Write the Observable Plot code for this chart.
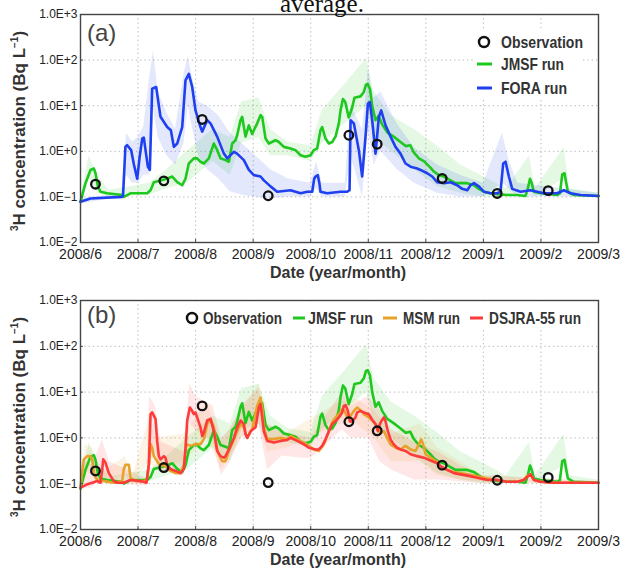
<!DOCTYPE html>
<html><head><meta charset="utf-8">
<script src="https://cdn.jsdelivr.net/npm/d3@7"></script>
<script src="https://cdn.jsdelivr.net/npm/@observablehq/plot@0.6"></script>
<style>
html,body{margin:0;padding:0;background:#fff;}
#wrap{position:relative;width:629px;height:569px;overflow:hidden;background:#fff;}
.panel{position:absolute;left:0;}
#cap{position:absolute;left:280px;top:-9px;font-family:"Liberation Serif","DejaVu Serif",serif;font-size:25px;line-height:1;color:#111;z-index:5;}
</style></head>
<body><div id="wrap"><div id="pa" class="panel" style="top:0"></div><div id="pb" class="panel" style="top:286px"></div><div id="cap">average.</div></div>
<script>
const monthTicks = [0,1,2,3,4,5,6,7,8,9];
const monthLabels = ["2008/6","2008/7","2008/8","2008/9","2008/10","2008/11","2008/12","2009/1","2009/2","2009/3"];
const yTicks = [0.01,0.1,1,10,100,1000];
const yLabels = ["1.0E\u22122","1.0E\u22121","1.0E+0","1.0E+1","1.0E+2","1.0E+3"];

// observations: month position (0 = 2008/6) and concentration (Bq/L)
const obsMonth = [0.26,1.448,2.114,3.261,4.663,5.155,6.284,7.24,8.126];
const obsValue = [0.19,0.225,5.0,0.106,2.25,1.43,0.254,0.119,0.137];

// daily-mean runs: [month position, concentration]
const jmsf = [[0,0.078],[0.087,0.20],[0.174,0.39],[0.232,0.42],[0.261,0.33],[0.301,0.17],[0.348,0.13],[0.463,0.12],[0.724,0.11],[0.753,0.10],[0.869,0.12],[1.043,0.12],[1.159,0.12],[1.217,0.14],[1.274,0.21],[1.39,0.23],[1.506,0.25],[1.593,0.28],[1.68,0.21],[1.767,0.18],[1.824,0.25],[1.882,0.54],[1.969,0.70],[2.027,0.70],[2.085,0.59],[2.143,0.54],[2.23,0.70],[2.317,1.48],[2.375,1.06],[2.433,0.70],[2.52,0.64],[2.578,0.59],[2.636,1.48],[2.694,1.75],[2.722,2.25],[2.78,4.8],[2.809,5.7],[2.867,2.1],[2.925,3.7],[2.983,2.4],[3.012,2.9],[3.07,4.1],[3.128,6.2],[3.157,5.7],[3.215,1.9],[3.273,1.48],[3.388,1.75],[3.446,1.6],[3.533,1.25],[3.649,1.15],[3.736,1.06],[3.823,0.82],[3.91,0.76],[3.997,0.82],[4.054,1.06],[4.112,1.15],[4.17,2.9],[4.199,3.4],[4.257,1.9],[4.315,1.48],[4.373,1.6],[4.431,2.1],[4.489,4.1],[4.518,7.9],[4.56,14],[4.60,12],[4.66,5.5],[4.72,9],[4.76,15],[4.865,16],[4.923,20],[4.96,29],[4.99,30],[5.03,23],[5.068,10],[5.126,4.8],[5.18,6],[5.24,3.9],[5.33,2.6],[5.44,2.1],[5.56,1.6],[5.65,1.3],[5.73,1.36],[5.79,0.95],[5.88,0.7],[5.97,0.6],[6.08,0.44],[6.14,0.36],[6.226,0.30],[6.313,0.28],[6.429,0.23],[6.516,0.20],[6.603,0.20],[6.719,0.20],[6.835,0.18],[6.921,0.15],[7.008,0.13],[7.124,0.12],[7.24,0.115],[7.414,0.11],[7.588,0.11],[7.732,0.105],[7.77,0.15],[7.81,0.25],[7.84,0.2],[7.877,0.13],[7.993,0.12],[8.283,0.11],[8.33,0.12],[8.37,0.31],[8.41,0.33],[8.44,0.2],[8.468,0.13],[8.57,0.11],[9.0,0.105]];

const fora = [[0,0.078],[0.174,0.092],[0.724,0.10],[0.74,0.11],[0.78,1.26],[0.811,1.36],[0.88,1.06],[0.93,0.5],[0.985,0.25],[1.03,0.79],[1.072,1.9],[1.10,2.0],[1.17,0.46],[1.205,0.39],[1.245,23.6],[1.315,25.7],[1.39,5.7],[1.506,3.4],[1.57,2.9],[1.622,1.25],[1.68,1.48],[1.767,3.4],[1.824,36],[1.882,50],[1.94,26],[1.998,7.9],[2.085,3.4],[2.114,2.7],[2.201,4.8],[2.259,4.1],[2.375,2.1],[2.491,0.89],[2.549,0.70],[2.664,0.97],[2.72,0.89],[2.838,0.64],[2.925,0.39],[3.012,0.30],[3.128,0.28],[3.186,0.23],[3.301,0.17],[3.417,0.13],[3.649,0.14],[3.823,0.12],[3.94,0.13],[4.026,0.13],[4.06,0.25],[4.083,0.28],[4.124,0.30],[4.15,0.2],[4.17,0.13],[4.286,0.12],[4.518,0.13],[4.634,0.13],[4.675,0.14],[4.692,4.8],[4.749,4.1],[4.836,1.06],[4.894,0.28],[4.952,2.1],[4.993,11],[5.027,12],[5.068,4.8],[5.126,0.89],[5.184,5.7],[5.224,7.9],[5.30,3.7],[5.387,2.1],[5.473,1.25],[5.56,0.89],[5.647,0.54],[5.734,0.46],[5.85,0.42],[5.908,0.39],[6.024,0.33],[6.111,0.28],[6.197,0.21],[6.313,0.20],[6.429,0.21],[6.545,0.18],[6.632,0.15],[6.719,0.14],[6.777,0.18],[6.835,0.20],[6.921,0.17],[7.008,0.13],[7.124,0.12],[7.24,0.12],[7.298,0.13],[7.344,0.54],[7.385,0.59],[7.443,0.28],[7.501,0.15],[7.646,0.13],[7.819,0.14],[7.935,0.13],[8.051,0.12],[8.283,0.12],[8.398,0.14],[8.514,0.12],[8.688,0.11],[9.0,0.105]];

const msm = [[0,0.085],[0.058,0.34],[0.116,0.40],[0.174,0.40],[0.203,0.34],[0.232,0.17],[0.29,0.12],[0.405,0.114],[0.579,0.105],[0.724,0.114],[0.753,0.21],[0.782,0.26],[0.84,0.26],[0.869,0.135],[0.956,0.114],[1.147,0.114],[1.188,0.26],[1.217,0.73],[1.245,0.61],[1.274,0.40],[1.332,0.31],[1.39,0.24],[1.448,0.26],[1.506,0.22],[1.564,0.19],[1.651,0.17],[1.738,0.17],[1.796,0.26],[1.842,0.73],[1.911,0.67],[1.998,0.73],[2.085,0.73],[2.143,0.94],[2.201,2.0],[2.259,2.6],[2.317,1.7],[2.375,0.52],[2.462,0.31],[2.52,0.31],[2.578,0.52],[2.665,0.94],[2.722,1.4],[2.78,2.0],[2.838,1.7],[2.896,1.0],[2.983,1.55],[3.07,5.0],[3.128,7.6],[3.157,4.6],[3.186,1.7],[3.244,0.94],[3.36,0.94],[3.475,1.0],[3.591,0.95],[3.649,1.1],[3.765,0.93],[3.881,0.79],[3.968,0.67],[4.054,0.56],[4.141,0.52],[4.228,0.72],[4.315,1.4],[4.373,2.2],[4.431,2.8],[4.489,3.3],[4.547,4.2],[4.587,3.9],[4.634,2.8],[4.691,3.0],[4.749,3.9],[4.807,4.6],[4.865,4.0],[4.923,3.3],[5.01,2.8],[5.068,2.4],[5.126,2.0],[5.184,1.4],[5.224,1.3],[5.271,1.4],[5.329,1.0],[5.387,0.72],[5.474,0.61],[5.56,0.56],[5.647,0.67],[5.734,0.56],[5.821,0.52],[5.879,0.72],[5.92,0.93],[5.955,0.72],[5.995,0.44],[6.082,0.37],[6.197,0.30],[6.255,0.24],[6.37,0.2],[6.49,0.18],[6.6,0.17],[6.72,0.16],[6.83,0.15],[6.95,0.14],[7.07,0.13],[7.24,0.12],[7.41,0.11],[7.59,0.11],[7.7,0.12],[7.76,0.15],[7.82,0.16],[7.88,0.12],[7.99,0.11],[8.2,0.105],[9.0,0.105]];

const dsjra = [[0,0.082],[0.116,0.097],[0.203,0.105],[0.29,0.114],[0.347,0.105],[0.376,0.19],[0.394,0.34],[0.434,0.29],[0.492,0.17],[0.579,0.114],[0.637,0.105],[0.753,0.105],[0.869,0.12],[1.043,0.114],[1.147,0.105],[1.188,0.26],[1.217,3.3],[1.245,3.6],[1.303,2.6],[1.332,0.86],[1.361,0.40],[1.39,0.34],[1.448,0.40],[1.477,0.37],[1.506,0.26],[1.564,0.21],[1.651,0.19],[1.738,0.17],[1.796,0.21],[1.825,0.61],[1.854,2.4],[1.90,4.6],[1.94,3.9],[1.969,3.3],[1.998,3.6],[2.027,2.8],[2.085,1.7],[2.114,1.1],[2.143,1.3],[2.201,2.4],[2.259,2.6],[2.317,1.4],[2.375,0.52],[2.433,0.40],[2.491,0.37],[2.52,0.40],[2.578,0.56],[2.665,1.0],[2.722,1.7],[2.78,2.4],[2.838,2.0],[2.867,1.2],[2.896,1.0],[2.954,1.4],[3.041,1.7],[3.099,4.6],[3.128,5.5],[3.157,2.8],[3.186,1.4],[3.244,0.86],[3.36,0.79],[3.475,0.86],[3.591,0.9],[3.649,1.0],[3.765,0.86],[3.881,0.72],[3.968,0.61],[4.083,0.56],[4.141,0.56],[4.199,0.67],[4.257,0.93],[4.315,1.4],[4.373,2.0],[4.431,2.3],[4.489,2.8],[4.547,3.6],[4.576,5.0],[4.605,5.2],[4.645,3.9],[4.68,2.3],[4.72,2.3],[4.778,2.8],[4.807,3.6],[4.865,3.9],[4.923,3.6],[5.01,3.3],[5.068,2.5],[5.126,2.0],[5.166,1.4],[5.201,2.0],[5.242,2.5],[5.271,2.8],[5.30,2.3],[5.34,1.4],[5.387,0.93],[5.444,0.72],[5.502,0.61],[5.56,0.56],[5.647,0.52],[5.734,0.44],[5.85,0.40],[5.966,0.37],[6.082,0.32],[6.197,0.28],[6.255,0.24],[6.37,0.2],[6.49,0.17],[6.6,0.16],[6.72,0.15],[6.83,0.14],[6.95,0.13],[7.07,0.12],[7.24,0.12],[7.41,0.11],[7.59,0.11],[7.70,0.12],[7.76,0.14],[7.82,0.16],[7.88,0.12],[7.99,0.11],[8.2,0.105],[9.0,0.105]];

// hourly spread (faint): [month position, low, high]
const jmsfHaze = [[0,0.07,0.09],[0.15,0.25,0.8],[0.3,0.12,0.3],[0.5,0.1,0.14],[1.2,0.11,0.2],[1.5,0.15,0.4],[1.85,0.2,1.0],[2.3,0.6,3],[2.6,0.3,2],[2.8,1.5,12],[3.1,2,15],[3.3,0.8,3],[3.6,0.8,1.6],[4.0,0.6,1.3],[4.2,1.5,8],[4.6,4,30],[4.97,10,110],[5.1,2,20],[5.4,1,6],[5.8,0.4,3],[6.2,0.17,1.3],[6.6,0.12,0.5],[7.0,0.1,0.28],[7.4,0.1,0.15],[7.8,0.15,0.8],[7.9,0.1,0.15],[8.4,0.25,1.2],[8.5,0.1,0.15],[9.0,0.1,0.12]];
const foraHaze = [[0,0.07,0.09],[0.5,0.09,0.11],[0.72,0.09,0.12],[0.8,0.3,2.5],[0.9,0.2,1.6],[1.0,0.2,2.0],[1.1,0.3,3.5],[1.2,0.3,40],[1.27,8,160],[1.35,2,20],[1.5,0.8,7],[1.65,0.5,3],[1.8,1.5,50],[1.87,10,120],[1.95,3,40],[2.05,0.8,12],[2.2,0.4,10],[2.4,0.25,6],[2.6,0.13,2.5],[2.8,0.11,1.5],[3.0,0.1,0.9],[3.3,0.09,0.4],[3.6,0.1,0.25],[4.0,0.1,0.2],[4.1,0.15,0.6],[4.2,0.1,0.2],[4.6,0.1,0.2],[4.7,0.8,10],[4.9,0.1,3],[5.0,3,60],[5.1,0.5,15],[5.22,1,20],[5.5,0.4,4],[5.8,0.2,1.2],[6.2,0.12,0.5],[6.6,0.1,0.3],[7.0,0.1,0.2],[7.33,0.2,2.5],[7.45,0.15,0.6],[7.6,0.1,0.2],[9.0,0.1,0.12]];
const msmHaze = [[0,0.08,0.1],[0.08,0.2,0.7],[0.2,0.15,0.6],[0.3,0.1,0.15],[0.78,0.15,0.4],[0.9,0.1,0.13],[1.2,0.3,3],[1.3,0.2,1],[1.8,0.3,1.2],[2.2,1,6],[2.45,0.2,0.8],[2.8,1,4],[3.1,2,15],[3.25,0.5,2],[3.6,0.6,1.3],[4.5,2,6],[4.8,2,7],[5.1,1,4],[5.4,0.3,1.2],[5.9,0.3,2],[6.2,0.15,0.6],[6.6,0.12,0.3],[7.0,0.11,0.15],[9.0,0.1,0.11]];
const dsjraHaze = [[0,0.07,0.09],[0.1,0.08,0.3],[0.2,0.08,0.25],[0.38,0.15,0.9],[0.5,0.1,0.3],[1.15,0.09,0.13],[1.2,0.3,8],[1.3,0.5,5],[1.4,0.2,0.8],[1.8,0.15,0.5],[1.9,2,15],[2.0,1.5,8],[2.3,0.8,5],[2.45,0.15,1],[2.6,0.3,1.5],[2.8,1,5],[3.1,2,12],[3.25,0.2,2],[3.5,0.4,1.3],[4.0,0.35,1],[4.55,1.5,10],[4.7,1,5],[5.0,1,8],[5.2,0.3,4],[5.4,0.2,1.5],[5.8,0.12,0.8],[6.2,0.12,0.5],[6.6,0.11,0.25],[7.0,0.1,0.15],[9.0,0.1,0.11]];

const C = {jmsf:"#1ec81e", fora:"#1f40f0", msm:"#e6a22a", dsjra:"#ff3a3a"};
const FONT = '"Liberation Sans", Arial, sans-serif';
const obs = obsMonth.map((m, i) => ({m, v: obsValue[i]}));

function panel(height, marginBottom, hazes, lines) {
  return Plot.plot({
    width: 629, height, marginTop: 14, marginRight: 31, marginBottom, marginLeft: 80,
    style: {fontFamily: FONT, background: "transparent", color: "#222", overflow: "visible"},
    x: {type: "linear", domain: [0, 9]},
    y: {type: "log", domain: [0.01, 1000]},
    marks: [
      Plot.gridX(monthTicks, {stroke: "#b5b5b5", strokeOpacity: 1, strokeDasharray: "1.3,3"}),
      Plot.gridY(yTicks, {stroke: "#b5b5b5", strokeOpacity: 1, strokeDasharray: "1.3,3"}),
      ...hazes.map(([data, color]) => Plot.areaY(data, {x: d => d[0], y1: d => d[1], y2: d => d[2], fill: color, fillOpacity: 0.12})),
      ...lines.map(([data, color]) => Plot.line(data, {x: d => d[0], y: d => d[1], stroke: color, strokeWidth: 2.6})),
      Plot.dot(obs, {x: "m", y: "v", r: 4.3, stroke: "#111", strokeWidth: 2.3, fill: "none"}),
      Plot.axisX(monthTicks, {tickFormat: d => monthLabels[d], tickSize: -3, tickPadding: 10, fontSize: 14, label: null, stroke: "#444"}),
      Plot.axisY(yTicks, {tickFormat: d => yLabels[yTicks.indexOf(d)], tickSize: -3, tickPadding: 6, fontSize: 12, label: null, stroke: "#444"}),
      Plot.frame({stroke: "#444", strokeWidth: 1.4})
    ]
  });
}

function decorate(svg, tag, tagY, yMid, titleY, legend) {
  const s = d3.select(svg);
  s.append("text").attr("x", 87).attr("y", tagY).attr("text-anchor", "start").attr("font-family", FONT).attr("font-size", 24).attr("fill", "#444").text(tag);
  const yt = s.append("text").attr("transform", `translate(25,${yMid}) rotate(-90)`).attr("text-anchor", "middle")
    .attr("font-family", FONT).attr("font-weight", "bold").attr("font-size", 17).attr("fill", "#333");
  yt.append("tspan").attr("font-size", 10).attr("dy", -7).text("3");
  yt.append("tspan").attr("dy", 7).text("H concentration (Bq L");
  yt.append("tspan").attr("font-size", 10).attr("dy", -7).text("\u22121");
  yt.append("tspan").attr("dy", 7).text(")");
  s.append("text").attr("x", 338).attr("y", titleY).attr("text-anchor", "middle").attr("font-family", FONT)
    .attr("font-weight", "bold").attr("font-size", 16).attr("fill", "#333").text("Date (year/month)");
  legend(s);
}

// legend text: condensed bold look via fixed text length
const legendText = (s, x, y, label, len) => s.append("text").attr("x", x).attr("y", y).attr("text-anchor", "start")
  .attr("font-family", FONT).attr("font-weight", "bold").attr("font-size", 17).attr("fill", "#333")
  .attr("textLength", len).attr("lengthAdjust", "spacingAndGlyphs").text(label);

const svgA = panel(286, 44, [[jmsfHaze, C.jmsf], [foraHaze, C.fora]], [[jmsf, C.jmsf], [fora, C.fora]]);
decorate(svgA, "(a)", 41, 131, 278, s => {
  s.append("rect").attr("x", 475).attr("y", 30).attr("width", 108).attr("height", 67).attr("fill", "#fff");
  s.append("circle").attr("cx", 484).attr("cy", 42).attr("r", 5).attr("fill", "none").attr("stroke", "#111").attr("stroke-width", 2.5);
  legendText(s, 501, 48, "Observation", 82);
  s.append("line").attr("x1", 477).attr("x2", 492).attr("y1", 64).attr("y2", 64).attr("stroke", C.jmsf).attr("stroke-width", 3);
  legendText(s, 501, 70, "JMSF run", 63);
  s.append("line").attr("x1", 477).attr("x2", 492).attr("y1", 88).attr("y2", 88).attr("stroke", C.fora).attr("stroke-width", 3);
  legendText(s, 501, 94, "FORA run", 66);
});
document.getElementById("pa").appendChild(svgA);

const svgB = panel(283, 40, [[jmsfHaze, C.jmsf], [msmHaze, C.msm], [dsjraHaze, C.dsjra]], [[jmsf, C.jmsf], [msm, C.msm], [dsjra, C.dsjra]]);
decorate(svgB, "(b)", 37, 131, 279, s => {
  s.append("rect").attr("x", 183).attr("y", 17).attr("width", 400).attr("height", 27).attr("fill", "#fff");
  s.append("circle").attr("cx", 192).attr("cy", 32).attr("r", 5).attr("fill", "none").attr("stroke", "#111").attr("stroke-width", 2.5);
  legendText(s, 203, 38, "Observation", 79);
  const items = [[293, 305, 308, C.jmsf, "JMSF run", 65], [383, 397, 403, C.msm, "MSM run", 57], [470, 483, 489, C.dsjra, "DSJRA-55 run", 92]];
  for (const [x1, x2, tx, col, label, len] of items) {
    s.append("line").attr("x1", x1).attr("x2", x2).attr("y1", 32).attr("y2", 32).attr("stroke", col).attr("stroke-width", 3);
    legendText(s, tx, 38, label, len);
  }
});
document.getElementById("pb").appendChild(svgB);
</script>
</body></html>
